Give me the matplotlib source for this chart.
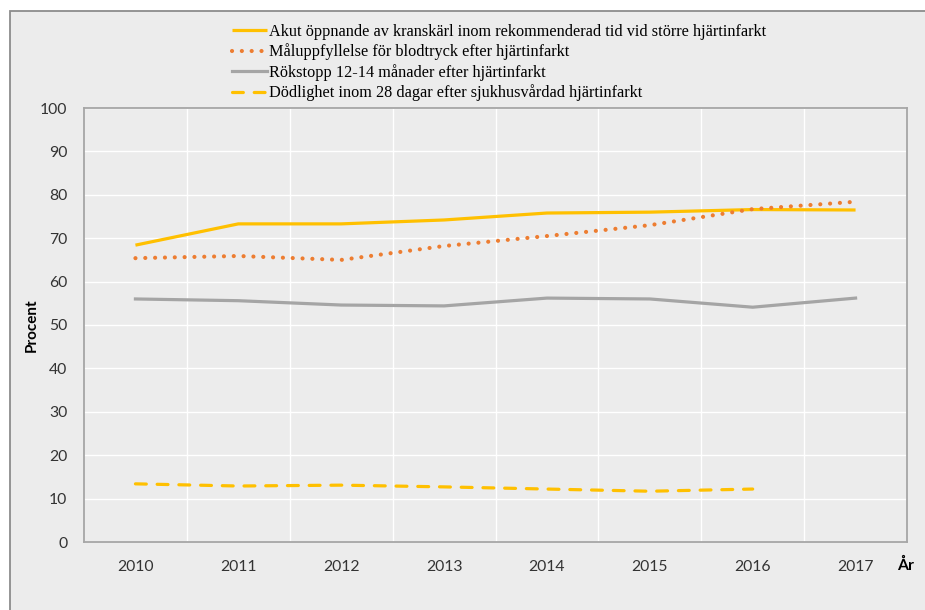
import matplotlib
matplotlib.use("Agg")
import matplotlib.pyplot as plt
from matplotlib.patches import Rectangle

years = ["2010", "2011", "2012", "2013", "2014", "2015", "2016", "2017"]
akut = [68.4, 73.3, 73.3, 74.2, 75.8, 76.0, 76.6, 76.5]
malupp = [65.4, 65.9, 65.0, 68.2, 70.5, 73.0, 76.7, 78.4]
rokstopp = [56.0, 55.6, 54.6, 54.4, 56.2, 56.0, 54.1, 56.2]
dodlighet = [13.4, 12.9, 13.1, 12.7, 12.2, 11.7, 12.2]

labels = [
    "Akut öppnande av kranskärl inom rekommenderad tid vid större hjärtinfarkt",
    "Måluppfyllelse för blodtryck efter hjärtinfarkt",
    "Rökstopp 12-14 månader efter hjärtinfarkt",
    "Dödlighet inom 28 dagar efter sjukhusvårdad hjärtinfarkt",
]

W, H = 925, 610
fig = plt.figure(figsize=(W / 100, H / 100), dpi=100)
fig.patch.set_facecolor("white")
bg = "#ececec"
fig.patches.append(Rectangle((10 / W, -0.05), 1.1, 1 - 11 / H + 0.05, transform=fig.transFigure,
                             facecolor=bg, edgecolor="#8c8c8c", linewidth=1.3, zorder=-10))

ax = fig.add_axes([84 / W, 1 - 542 / H, (907 - 84) / W, (542 - 108) / H])
ax.set_facecolor(bg)

x = list(range(len(years)))
c_yellow = "#FFC000"
c_orange = "#ED7D31"
c_gray = "#A5A5A5"

l1, = ax.plot(x, akut, color=c_yellow, lw=2.3, solid_capstyle="butt", zorder=3)
l2, = ax.plot(x, malupp, color=c_orange, lw=3.0, linestyle=(0, (0.01, 2.35)),
              dash_capstyle="round", zorder=4)
l3, = ax.plot(x, rokstopp, color=c_gray, lw=2.3, zorder=3)
l4, = ax.plot(x[:len(dodlighet)], dodlighet, color=c_yellow, lw=2.3,
              linestyle=(0, (3.4, 3.4)), dash_capstyle="round", zorder=3)

ax.set_xlim(-0.5, len(years) - 0.5)
ax.set_ylim(0, 100)
ax.set_yticks(range(0, 101, 10))
ax.set_xticks(x)
ax.set_xticklabels(years)
ax.set_xticks([i + 0.5 for i in range(len(years) - 1)], minor=True)
ax.grid(axis="y", which="major", color="white", lw=1.0, zorder=1)
ax.grid(axis="x", which="minor", color="white", lw=1.0, zorder=1)
ax.grid(axis="x", which="major", visible=False)
ax.set_axisbelow(True)
ax.tick_params(axis="both", which="both", length=0)
ax.tick_params(axis="y", pad=12)
ax.tick_params(axis="x", pad=13)
for lab in ax.get_xticklabels() + ax.get_yticklabels():
    lab.set_fontfamily("Lato")
    lab.set_fontsize(11.3)
    lab.set_color("#333333")
for s in ax.spines.values():
    s.set_color("#a6a6a6")
    s.set_linewidth(1.3)

fig.text(32 / W, 1 - 325 / H, "Procent", rotation=90, ha="center", va="center",
         fontfamily="Lato", fontweight="bold", fontsize=11, color="#000000")
fig.text(906 / W, 1 - 565 / H, "År", ha="center", va="center",
         fontfamily="Lato", fontweight="bold", fontsize=11.3, color="#000000")

leg = fig.legend([l1, l2, l3, l4], labels, loc="upper left",
                 bbox_to_anchor=(232 / W, 1 - 24 / H), frameon=False,
                 prop={"family": "Liberation Serif", "size": 11.7},
                 handlelength=2.15, handletextpad=0.1, labelspacing=0.22,
                 borderpad=0, borderaxespad=0)
for t in leg.get_texts():
    t.set_color("#000000")

fig.savefig("out.png", dpi=100, facecolor=fig.get_facecolor())
